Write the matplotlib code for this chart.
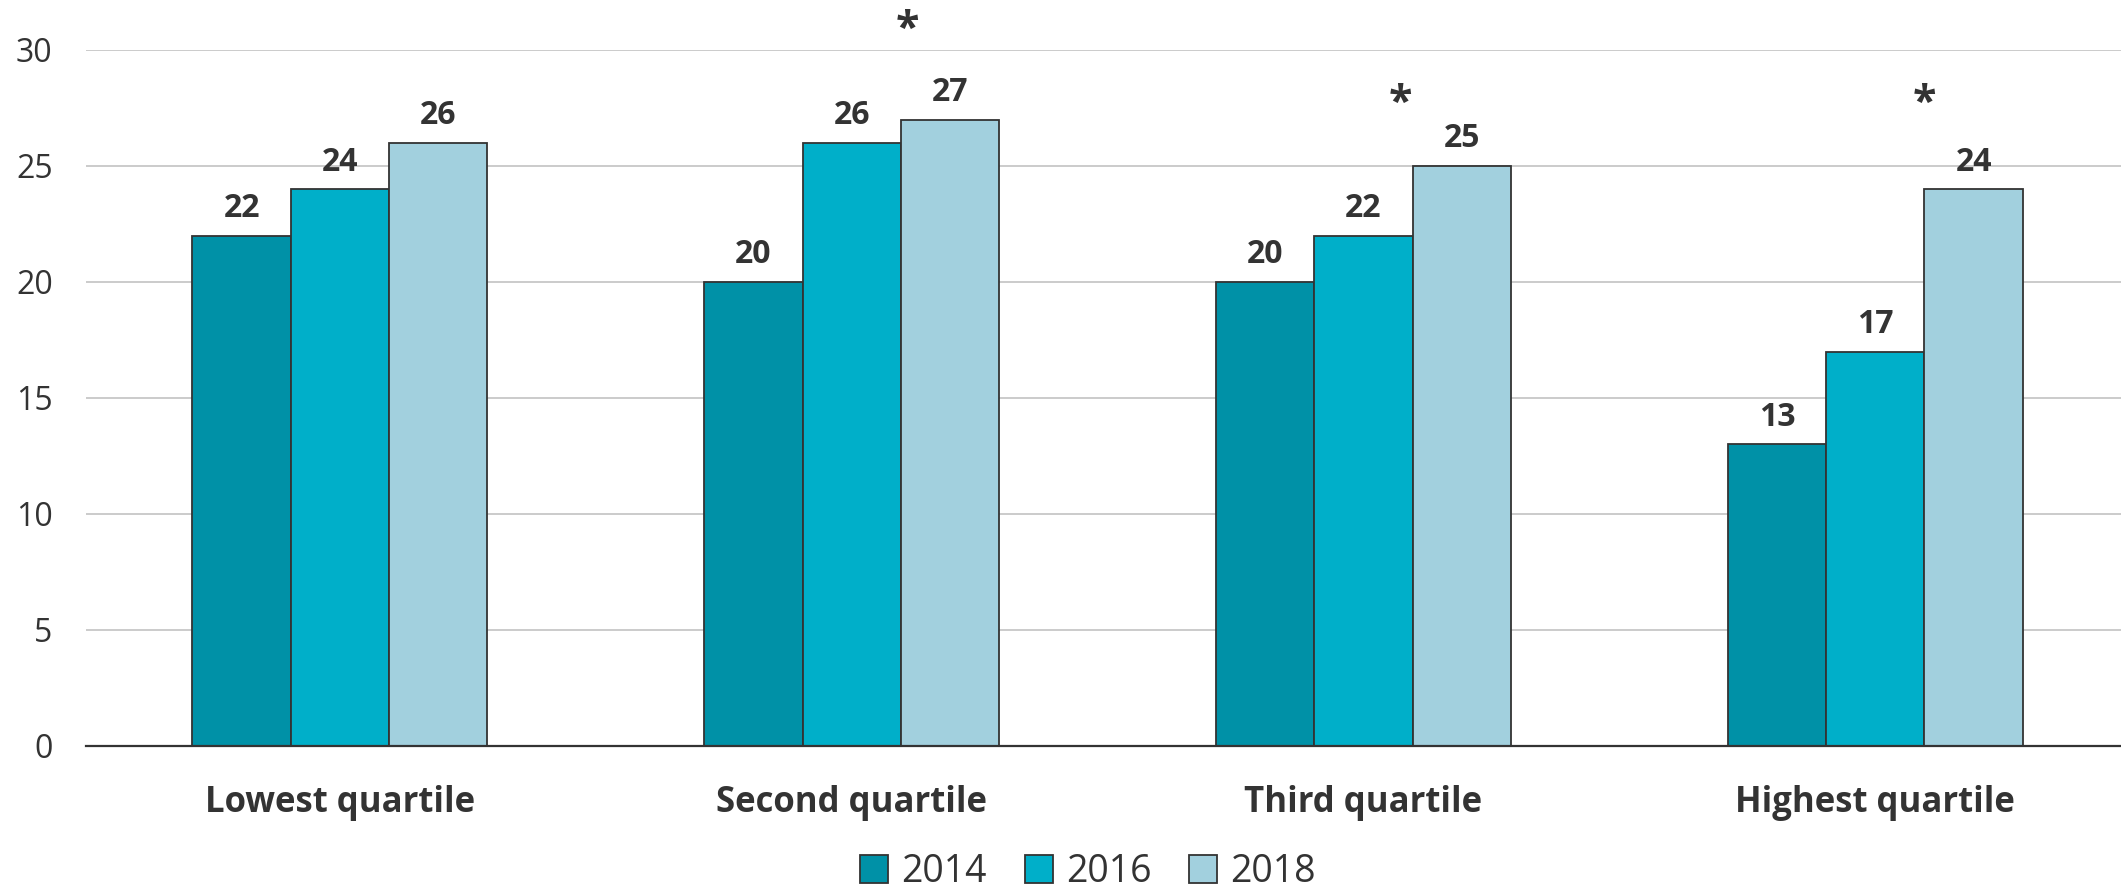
import matplotlib
matplotlib.use("Agg")
import matplotlib.pyplot as plt
import numpy as np
from matplotlib.patches import Patch

plt.rcParams["font.family"] = ["Open Sans", "DejaVu Sans"]

categories = ["Lowest quartile", "Second quartile", "Third quartile", "Highest quartile"]
years = ["2014", "2016", "2018"]
values_2014 = [22, 20, 20, 13]
values_2016 = [24, 26, 22, 17]
values_2018 = [26, 27, 25, 24]
# significance markers: category index, x offset within group, height
star_cats = [1, 2, 3]
star_dx = [0.108, 0.072, 0.096]
star_y = [30.85, 27.65, 27.65]

colors = ["#0091A7", "#00AFC9", "#A2D0DE"]
edge = "#333333"
text_c = "#333333"

fig = plt.figure(figsize=(21.21, 8.93), dpi=100)
ax = fig.add_axes([86 / 2121, 147 / 893, 2035 / 2121, 696 / 893])

x = np.arange(len(categories))
w = 0.192
series = [values_2014, values_2016, values_2018]
for k, vals in enumerate(series):
    pos = x + (k - 1) * w
    ax.bar(pos, vals, width=w, color=colors[k], edgecolor=edge, linewidth=1.3, zorder=3)
    for xi, v in zip(pos, vals):
        ax.text(xi, v + 0.8, str(v), ha="center", va="baseline",
                fontsize=23, fontweight="bold", color=text_c)

for c, dx, y in zip(star_cats, star_dx, star_y):
    ax.text(c + dx, y, "*", ha="center", va="center", fontsize=31,
            fontweight="bold", color=text_c, clip_on=False)

ax.set_xlim(-0.496, 3.48)
ax.set_ylim(0, 30)
ax.set_yticks(range(0, 31, 5))
ax.set_xticks(x)
ax.set_xticklabels(categories, fontsize=25, fontweight="bold", color=text_c)
ax.tick_params(axis="x", length=0, pad=28)
ax.tick_params(axis="y", length=0, pad=24, labelsize=23, labelcolor=text_c)
ax.grid(axis="y", color="#bdbdbd", linewidth=1.1, zorder=0)
ax.set_axisbelow(True)
for s in ["top", "right", "left"]:
    ax.spines[s].set_visible(False)
ax.spines["bottom"].set_color(edge)
ax.spines["bottom"].set_linewidth(1.6)
ax.spines["bottom"].set_zorder(4)

handles = [Patch(facecolor=colors[k], edgecolor=edge, linewidth=1.3, label=years[k]) for k in range(3)]
fig.legend(handles=handles, loc="center", bbox_to_anchor=(1088 / 2121, 21 / 893),
           ncol=3, frameon=False, fontsize=27, handlelength=0.75, handleheight=0.75,
           handletextpad=0.35, columnspacing=1.0, labelcolor=text_c)

fig.savefig("out.png", dpi=100)
